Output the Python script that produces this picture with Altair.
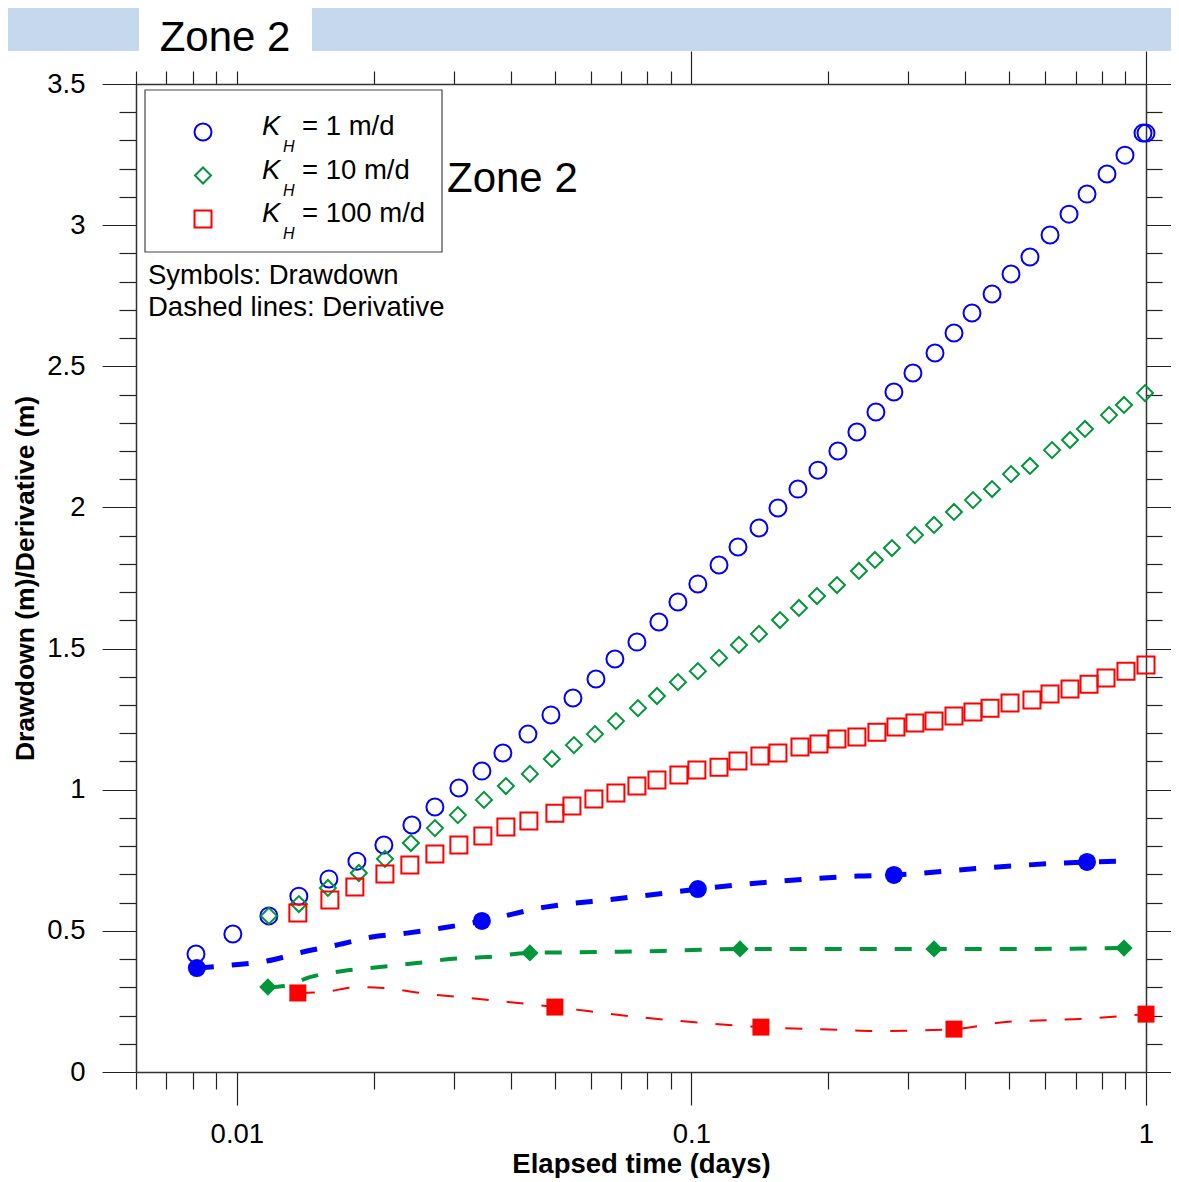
import altair as alt
import pandas as pd

# ---------------- data ----------------
# Drawdown (open symbols)
t_k1 = [0.00813, 0.0098, 0.01176, 0.01369, 0.01594, 0.01837, 0.02106, 0.02427, 0.02727, 0.03079,
        0.0346, 0.03848, 0.04369, 0.04909, 0.05487, 0.06166, 0.06787, 0.07588, 0.0848, 0.09339,
        0.1033, 0.115, 0.1266, 0.1408, 0.155, 0.1715, 0.1898, 0.21, 0.2312, 0.2546,
        0.2789, 0.3071, 0.3434, 0.3781, 0.4142, 0.4585, 0.5047, 0.5556, 0.615, 0.6771,
        0.7418, 0.8208, 0.899, 0.9849, 1.0]
dd_k1 = [0.418, 0.489, 0.553, 0.623, 0.684, 0.747, 0.804, 0.875, 0.939, 1.006,
         1.066, 1.130, 1.197, 1.265, 1.325, 1.392, 1.463, 1.523, 1.594, 1.665,
         1.729, 1.796, 1.860, 1.927, 1.998, 2.065, 2.132, 2.200, 2.267, 2.338,
         2.409, 2.476, 2.547, 2.618, 2.689, 2.756, 2.827, 2.887, 2.965, 3.039,
         3.110, 3.181, 3.248, 3.326, 3.326]

t_k10 = [0.01176, 0.01369, 0.01586, 0.01855, 0.02117, 0.02415, 0.02727, 0.03063, 0.03496, 0.03907,
         0.04412, 0.04932, 0.05515, 0.06133, 0.06822, 0.07627, 0.08398, 0.09339, 0.1033, 0.115,
         0.1272, 0.1408, 0.1566, 0.1724, 0.1889, 0.209, 0.2336, 0.2533, 0.2761, 0.3102,
         0.3417, 0.3781, 0.4163, 0.4585, 0.5047, 0.5556, 0.6213, 0.6805, 0.734, 0.8291,
         0.8945, 0.995]
dd_k10 = [0.553, 0.595, 0.652, 0.705, 0.755, 0.811, 0.864, 0.910, 0.964, 1.013,
          1.056, 1.109, 1.158, 1.197, 1.243, 1.289, 1.332, 1.381, 1.420, 1.467,
          1.513, 1.552, 1.601, 1.644, 1.686, 1.725, 1.775, 1.814, 1.856, 1.902,
          1.938, 1.984, 2.026, 2.065, 2.118, 2.147, 2.203, 2.239, 2.278, 2.327,
          2.363, 2.405]

t_k100 = [0.01362, 0.01602, 0.01818, 0.02117, 0.02402, 0.02727, 0.03079, 0.03477, 0.03907, 0.0439,
          0.05008, 0.05459, 0.06102, 0.06822, 0.07588, 0.08398, 0.09386, 0.1028, 0.115, 0.1266,
          0.1415, 0.155, 0.1733, 0.1908, 0.209, 0.2312, 0.2559, 0.2818, 0.3102, 0.3417,
          0.3781, 0.4163, 0.4539, 0.5022, 0.5612, 0.615, 0.6805, 0.7493, 0.8166, 0.9036, 1.0]
dd_k100 = [0.563, 0.609, 0.655, 0.701, 0.733, 0.772, 0.804, 0.836, 0.868, 0.889,
           0.917, 0.942, 0.967, 0.988, 1.013, 1.034, 1.052, 1.070, 1.080, 1.102,
           1.119, 1.130, 1.151, 1.162, 1.180, 1.187, 1.204, 1.222, 1.236, 1.243,
           1.261, 1.275, 1.289, 1.307, 1.318, 1.339, 1.357, 1.374, 1.396, 1.420, 1.442]

# Derivative (dashed lines)
dt_k1 = [0.008166, 0.00975, 0.01164, 0.01397, 0.0166, 0.01982, 0.02366, 0.02825, 0.0346, 0.04761,
         0.06787, 0.08787, 0.1033, 0.1488, 0.2324, 0.2789, 0.4403, 0.7418, 0.8945]
dv_k1 = [0.368, 0.379, 0.393, 0.425, 0.450, 0.478, 0.492, 0.510, 0.535, 0.584,
         0.613, 0.634, 0.648, 0.673, 0.694, 0.698, 0.723, 0.744, 0.747]
dt_k10 = [0.0117, 0.01275, 0.01447, 0.01711, 0.02064, 0.02489, 0.02942, 0.03548, 0.04412, 0.06197,
          0.08657, 0.1279, 0.2165, 0.3417, 0.5309, 0.8945]
dv_k10 = [0.301, 0.305, 0.336, 0.358, 0.372, 0.386, 0.400, 0.407, 0.422, 0.425,
          0.429, 0.436, 0.436, 0.436, 0.436, 0.439]
dt_k100 = [0.01362, 0.01546, 0.01846, 0.02096, 0.02527, 0.03604, 0.05008, 0.0732, 0.1003, 0.1422,
           0.2122, 0.2612, 0.3781, 0.492, 0.7158, 1.0]
dv_k100 = [0.280, 0.283, 0.301, 0.298, 0.280, 0.255, 0.230, 0.198, 0.177, 0.159,
           0.149, 0.145, 0.152, 0.177, 0.188, 0.205]

# Filled markers on the derivative curves
mt_k1 = [0.008166, 0.0346, 0.1033, 0.2789, 0.7418]
mv_k1 = [0.368, 0.535, 0.648, 0.698, 0.744]
mt_k10 = [0.0117, 0.04412, 0.1279, 0.3417, 0.8945]
mv_k10 = [0.301, 0.422, 0.436, 0.436, 0.439]
mt_k100 = [0.01362, 0.05008, 0.1422, 0.3781, 1.0]
mv_k100 = [0.280, 0.230, 0.159, 0.152, 0.205]

# Axis ticks / labels
x_tick_values = [0.006, 0.007, 0.008, 0.009, 0.01, 0.02, 0.03, 0.04, 0.05, 0.06, 0.07, 0.08, 0.09,
                 0.1, 0.2, 0.3, 0.4, 0.5, 0.6, 0.7, 0.8, 0.9, 1]
y_tick_values = [0, 0.1, 0.2, 0.3, 0.4, 0.5, 0.6, 0.7, 0.8, 0.9, 1, 1.1, 1.2, 1.3, 1.4, 1.5, 1.6, 1.7,
                 1.8, 1.9, 2, 2.1, 2.2, 2.3, 2.4, 2.5, 2.6, 2.7, 2.8, 2.9, 3, 3.1, 3.2, 3.3, 3.4, 3.5]
legend_labels = ["= 1 m/d", "= 10 m/d", "= 100 m/d"]
title_text = "Zone 2"

# ---------------- styling ----------------
FONT = "Liberation Sans"
W, H = 1010, 988
BLUE, GREEN, RED = "#0000ff", "#009639", "#ff0000"
BAND = "#c5d8ed"
FS = 27.5

xs = alt.Scale(type="log", domain=[0.006, 1], nice=False)
ys = alt.Scale(domain=[0, 3.5], nice=False, zero=False)

MAJ_X = "datum.value == 0.01 || datum.value == 0.1 || datum.value == 1"
TOP_MAJ = "datum.value == 0.1 || datum.value == 1"
MAJ_Y = "abs(datum.value * 2 - round(datum.value * 2)) < 0.001"


def tsize(test, big, small):
    return {"condition": {"test": test, "value": big}, "value": small}


common = dict(grid=False, domainColor="#333333", domainWidth=1.5, tickColor="#222222",
              tickWidth=1.2, labelFont=FONT, labelFontSize=FS, labelColor="#000000",
              labelOverlap=False, labelFlush=False, titleFont=FONT,
              titleFontWeight="bold", titleColor="#000000")

ax_bottom = alt.Axis(orient="bottom", values=x_tick_values, tickSize=tsize(MAJ_X, 33, 17),
                     labelExpr=f"({MAJ_X}) ? format(datum.value, '~g') : ''", labelPadding=15,
                     title="Elapsed time (days)", titleFontSize=27.5, titleX=W / 2, titleY=100,
                     titleBaseline="alphabetic", titleAlign="center", **common)
ax_left = alt.Axis(orient="left", values=y_tick_values, tickSize=tsize(MAJ_Y, 34, 17),
                   labelExpr=f"({MAJ_Y}) ? format(datum.value, '~g') : ''", labelPadding=17,
                   title="Drawdown (m)/Derivative (m)", titleFontSize=26.5, titleX=-103,
                   titleY=H / 2, titleAngle=270, titleBaseline="alphabetic",
                   titleAlign="center", **common)
ax_top = alt.Axis(orient="top", values=x_tick_values, tickSize=tsize(TOP_MAJ, 33, 13),
                  labels=False, title=None, **common)
ax_right = alt.Axis(orient="right", values=y_tick_values, tickSize=tsize(MAJ_Y, 34, 16),
                    labels=False, title=None, **common)

one = pd.DataFrame({"a": [0]})


def df(t, v):
    return pd.DataFrame({"t": t, "v": v})


def enc(chart, xa=None, ya=None):
    return chart.encode(
        x=alt.X("t:Q", scale=xs, axis=xa),
        y=alt.Y("v:Q", scale=ys, axis=ya),
    )


def text(s, x, y, size, align="left", style="normal"):
    return alt.Chart(one).mark_text(
        text=s, font=FONT, fontSize=size, align=align, baseline="alphabetic",
        color="#000000", fontStyle=style
    ).encode(x=alt.value(x), y=alt.value(y))


layers = []

# top band with a white tab
layers.append(alt.Chart(one).mark_rect(color=BAND).encode(
    x=alt.value(-128), x2=alt.value(3), y=alt.value(-76), y2=alt.value(-33)))
layers.append(alt.Chart(one).mark_rect(color=BAND).encode(
    x=alt.value(176), x2=alt.value(1040), y=alt.value(-76), y2=alt.value(-33)))

# legend box
layers.append(alt.Chart(one).mark_rect(fill="#ffffff", stroke="#444444", strokeWidth=1.2).encode(
    x=alt.value(9), x2=alt.value(306), y=alt.value(6), y2=alt.value(168)))

series = [
    (t_k1, dd_k1, dt_k1, dv_k1, mt_k1, mv_k1, BLUE, "circle", 5, 324),
    (t_k10, dd_k10, dt_k10, dv_k10, mt_k10, mv_k10, GREEN, "diamond", 4, 300),
    (t_k100, dd_k100, dt_k100, dv_k100, mt_k100, mv_k100, RED, "square", 2, 289),
]

# derivative dashed lines + filled markers
for (_, _, dt, dv, mt, mv, col, shp, lw, msz) in series:
    layers.append(enc(alt.Chart(df(dt, dv)).mark_line(
        color=col, strokeWidth=lw, strokeDash=[17, 18], interpolate="monotone")))
    layers.append(enc(alt.Chart(df(mt, mv)).mark_point(
        shape=shp, filled=True, color=col, size=msz, opacity=1)))

# drawdown open symbols (first carries bottom/left axes, second top/right)
sym_size = {"circle": 289, "diamond": 256, "square": 289}
for i, (t, d, _, _, _, _, col, shp, _, _) in enumerate(series):
    ch = alt.Chart(df(t, d)).mark_point(shape=shp, filled=False, color=col, strokeWidth=2,
                                        size=sym_size[shp], opacity=1)
    if i == 0:
        layers.append(enc(ch, ax_bottom, ax_left))
    elif i == 1:
        layers.append(enc(ch, ax_top, ax_right))
    else:
        layers.append(enc(ch))

# titles
layers.append(text(title_text, 89, -33, 42, align="center"))
layers.append(text(title_text, 311, 108, 42))

# legend entries
for i, (lab, s) in enumerate(zip(legend_labels, series)):
    yrow = 51 + 43.5 * i
    layers.append(alt.Chart(one).mark_point(
        shape=s[7], filled=False, color=s[6], strokeWidth=2, size=sym_size[s[7]], opacity=1
    ).encode(x=alt.value(67), y=alt.value(yrow - 3)))
    layers.append(text("K", 126, yrow, FS, style="italic"))
    layers.append(text("H", 147, yrow + 17, 16, style="italic"))
    layers.append(text(lab, 166, yrow, FS))

layers.append(text("Symbols: Drawdown", 12, 200, FS))
layers.append(text("Dashed lines: Derivative", 12, 232, FS))

chart = alt.layer(*layers).resolve_axis(x="independent", y="independent").properties(
    width=W, height=H,
    autosize=alt.AutoSizeParams(type="none"),
    padding={"left": 128, "top": 76, "right": 25, "bottom": 106},
    background="#ffffff",
).configure_view(stroke=None)

chart.save("out.html", embed_options={"renderer": "svg", "actions": False})
